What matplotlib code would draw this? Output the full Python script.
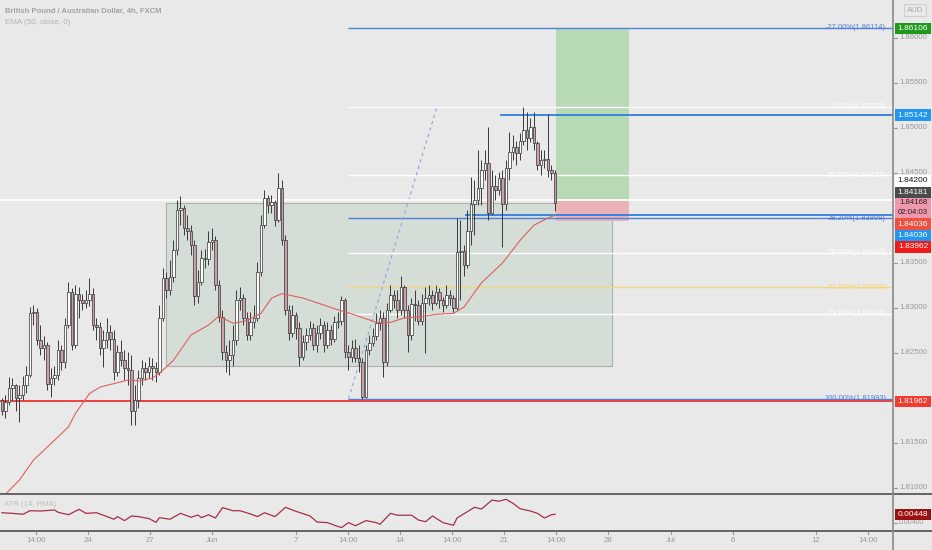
import matplotlib
matplotlib.use('Agg')
import matplotlib.pyplot as plt
from matplotlib.patches import Rectangle
from matplotlib.lines import Line2D
import numpy as np

plt.rcParams['font.family'] = ['Liberation Sans', 'DejaVu Sans']

# ---- data (GBPAUD 4h) ----
first_open = 1.8198
closes = [
    1.8186, 1.8195, 1.8211, 1.8214, 1.8200, 1.8203, 1.8214, 1.8225, 1.8294, 1.8295,
    1.8264, 1.8255, 1.8259, 1.8216, 1.8222, 1.8225, 1.8253, 1.8240, 1.8281, 1.8318,
    1.8259, 1.8316, 1.8309, 1.8305, 1.8309, 1.8316, 1.8281, 1.8279, 1.8255, 1.8264,
    1.8273, 1.8266, 1.8229, 1.8251, 1.8242, 1.8233, 1.8231, 1.8186, 1.8198, 1.8222,
    1.8233, 1.8229, 1.8236, 1.8233, 1.8229, 1.8289, 1.8333, 1.8320, 1.8334, 1.8364,
    1.8409, 1.8411, 1.8389, 1.8386, 1.8370, 1.8313, 1.8329, 1.8355, 1.8354, 1.8373,
    1.8375, 1.8325, 1.8290, 1.8251, 1.8242, 1.8248, 1.8264, 1.8309, 1.8311, 1.8289,
    1.8270, 1.8284, 1.8289, 1.8340, 1.8392, 1.8422, 1.8414, 1.8418, 1.8398, 1.8433,
    1.8375, 1.8298, 1.8272, 1.8292, 1.8278, 1.8245, 1.8262, 1.8270, 1.8278, 1.8259,
    1.8272, 1.8281, 1.8259, 1.8275, 1.8266, 1.8284, 1.8286, 1.8309, 1.8251, 1.8246,
    1.8255, 1.8244, 1.8240, 1.8201, 1.8253, 1.8261, 1.8269, 1.8283, 1.8289, 1.8240,
    1.8298, 1.8314, 1.8309, 1.8298, 1.8323, 1.8298, 1.8270, 1.8304, 1.8303, 1.8286,
    1.8306, 1.8311, 1.8314, 1.8306, 1.8318, 1.8309, 1.8303, 1.8314, 1.8311, 1.8300,
    1.8362, 1.8363, 1.8348, 1.8386, 1.8416, 1.8420, 1.8433, 1.8453, 1.8461, 1.8406,
    1.8436, 1.8431, 1.8444, 1.8416, 1.8456, 1.8473, 1.8479, 1.8472, 1.8486, 1.8498,
    1.8489, 1.8501, 1.8483, 1.8459, 1.8464, 1.8466, 1.8453, 1.8450, 1.84168,
]
highs = [
    1.8200, 1.8203, 1.8223, 1.8222, 1.8216, 1.8214, 1.8224, 1.8236, 1.8301, 1.8303,
    1.8300, 1.8281, 1.8269, 1.8262, 1.8233, 1.8236, 1.8264, 1.8259, 1.8289, 1.8329,
    1.8322, 1.8326, 1.8323, 1.8315, 1.8320, 1.8333, 1.8322, 1.8289, 1.8284, 1.8275,
    1.8289, 1.8281, 1.8275, 1.8259, 1.8264, 1.8253, 1.8251, 1.8248, 1.8214, 1.8231,
    1.8242, 1.8240, 1.8245, 1.8244, 1.8240, 1.8303, 1.8344, 1.8340, 1.8353, 1.8375,
    1.8420, 1.8424, 1.8414, 1.8403, 1.8392, 1.8375, 1.8342, 1.8364, 1.8366, 1.8386,
    1.8389, 1.8380, 1.8331, 1.8298, 1.8259, 1.8264, 1.8281, 1.8320, 1.8323, 1.8316,
    1.8295, 1.8295, 1.8303, 1.8351, 1.8403, 1.8431, 1.8425, 1.8426, 1.8420, 1.8450,
    1.8442, 1.8381, 1.8303, 1.8303, 1.8295, 1.8284, 1.8270, 1.8278, 1.8286, 1.8283,
    1.8281, 1.8289, 1.8286, 1.8284, 1.8281, 1.8291, 1.8295, 1.8313, 1.8311, 1.8259,
    1.8264, 1.8266, 1.8259, 1.8244, 1.8259, 1.8270, 1.8278, 1.8294, 1.8298, 1.8295,
    1.8306, 1.8325, 1.8320, 1.8320, 1.8336, 1.8325, 1.8303, 1.8311, 1.8320, 1.8309,
    1.8316, 1.8323, 1.8325, 1.8320, 1.8325, 1.8322, 1.8312, 1.8325, 1.8320, 1.8314,
    1.8400, 1.8398, 1.8370, 1.8409, 1.8445, 1.8442, 1.8475, 1.8464, 1.8475, 1.8501,
    1.8453, 1.8448, 1.8451, 1.8453, 1.8464, 1.8495, 1.8492, 1.8486, 1.8494, 1.85238,
    1.8518, 1.8511, 1.8518, 1.8486, 1.8475, 1.8475, 1.8516, 1.8459, 1.8453,
]
lows = [
    1.8181, 1.8178, 1.8192, 1.8198, 1.8186, 1.8173, 1.8198, 1.8206, 1.8223, 1.8281,
    1.8259, 1.8248, 1.8242, 1.8209, 1.8201, 1.8214, 1.8220, 1.8231, 1.8233, 1.8278,
    1.8253, 1.8255, 1.8289, 1.8298, 1.8300, 1.8302, 1.8275, 1.8264, 1.8248, 1.8234,
    1.8255, 1.8253, 1.8220, 1.8224, 1.8236, 1.8220, 1.8214, 1.8170, 1.8170, 1.8189,
    1.8214, 1.8220, 1.8222, 1.8220, 1.8218, 1.8225, 1.8286, 1.8311, 1.8314, 1.8329,
    1.8359, 1.8392, 1.8381, 1.8375, 1.8359, 1.8303, 1.8306, 1.8325, 1.8344, 1.8348,
    1.8364, 1.8320, 1.8284, 1.8242, 1.8229, 1.8225, 1.8236, 1.8259, 1.8298, 1.8281,
    1.8264, 1.8264, 1.8278, 1.8286, 1.8336, 1.8389, 1.8406, 1.8406, 1.8391, 1.8395,
    1.8370, 1.8292, 1.8264, 1.8268, 1.8266, 1.8235, 1.8242, 1.8253, 1.8264, 1.8253,
    1.8251, 1.8266, 1.8251, 1.8255, 1.8259, 1.8262, 1.8278, 1.8281, 1.8244, 1.8231,
    1.8240, 1.8240, 1.8229, 1.81993, 1.8200, 1.8248, 1.8258, 1.8264, 1.8275, 1.8223,
    1.8236, 1.8295, 1.8300, 1.8289, 1.8292, 1.8289, 1.8251, 1.8264, 1.8286, 1.8281,
    1.8281, 1.8250, 1.8303, 1.8298, 1.8303, 1.8300, 1.8295, 1.8300, 1.8303, 1.8295,
    1.8298, 1.8309, 1.8336, 1.8344, 1.8370, 1.8381, 1.8414, 1.8414, 1.8442, 1.8398,
    1.8403, 1.8420, 1.8425, 1.8368, 1.8409, 1.8442, 1.8464, 1.8459, 1.8464, 1.8481,
    1.8475, 1.8484, 1.8475, 1.8453, 1.8448, 1.8455, 1.8446, 1.8442, 1.8408,
]

ema_pos = [1, 5, 9, 15, 19, 21, 25, 28, 32, 36, 39, 43, 46, 49, 54, 59, 62, 66, 70,
           74, 77, 80, 86, 96, 101, 107, 111, 115, 119, 124, 129, 132, 137, 143,
           148, 152, 156, 158]
ema_val = [1.8093, 1.8109, 1.8131, 1.8153, 1.8168, 1.8183, 1.8205, 1.8212, 1.8216,
           1.8220, 1.8219, 1.8222, 1.8231, 1.8242, 1.8270, 1.8281, 1.8291, 1.8283,
           1.8286, 1.8294, 1.8311, 1.8316, 1.8311, 1.8298, 1.8292, 1.8284, 1.8284,
           1.8289, 1.8290, 1.8293, 1.8294, 1.8301, 1.8328, 1.8350, 1.8375, 1.8392,
           1.8400, 1.8403]

atr_pos = [0, 3, 6, 8, 11, 15, 16, 19, 22, 24, 27, 30, 32, 33, 35, 37, 39, 42, 44,
           45, 48, 51, 54, 56, 57, 59, 61, 63, 66, 68, 71, 73, 75, 78, 81, 84, 88,
           90, 93, 95, 97, 99, 101, 104, 107, 108, 111, 113, 117, 119, 121, 123,
           126, 129, 130, 135, 137, 140, 142, 144, 146, 148, 151, 153, 155, 157, 158]
atr_val = [0.00458, 0.00454, 0.00448, 0.00471, 0.00469, 0.00476, 0.00461, 0.00445,
           0.00480, 0.00454, 0.00458, 0.00433, 0.00416, 0.00433, 0.00407, 0.00437,
           0.00433, 0.00420, 0.00396, 0.00426, 0.00416, 0.00454, 0.00429, 0.00443,
           0.00426, 0.00445, 0.00424, 0.00491, 0.00471, 0.00471, 0.00450, 0.00433,
           0.00458, 0.00433, 0.00493, 0.00467, 0.00437, 0.00398, 0.00394, 0.00377,
           0.00362, 0.00394, 0.00374, 0.00407, 0.00394, 0.00383, 0.00454, 0.00442,
           0.00442, 0.00411, 0.00400, 0.00437, 0.00394, 0.00377, 0.00424, 0.00493,
           0.00482, 0.00540, 0.00532, 0.00545, 0.00519, 0.00484, 0.00469, 0.00454,
           0.00424, 0.00445, 0.00448]

fib_pct = [-27.0, 0.0, 23.6, 38.2, 50.0, 61.8, 71.0, 100.0]
fib_price = [1.86114, 1.85238, 1.84472, 1.83998, 1.83616, 1.83233, 1.82934, 1.81993]
fib_start, fib_end = 99, 124.3  # pivot low bar -> pivot high bar

# scale ticks (1.84000 and 1.82000 sit under price badges and are not shown)
price_ticks = [1.860, 1.855, 1.850, 1.845, 1.835, 1.830, 1.825, 1.815, 1.810]
time_labels = ['14:00', '24', '27', 'Jun', '7', '14:00', '14', '14:00', '21', '14:00',
               '28', 'Jul', '6', '12', '14:00']
time_pos = [9.7, 24.6, 42.3, 60.0, 84.0, 98.9, 113.7, 128.6, 143.4, 158.3, 173.1,
            191.1, 208.9, 232.6, 247.4]

box = dict(left=47, right=174.3, top=1.8417, bottom=1.8236)
entry, target, stop = 1.84200, 1.86106, 1.83962
pos_left, pos_right = 158.3, 179.1
level_red = 1.81962
level_blue_hi, level_blue_hi_from = 1.85142, 142.3
level_blue_lo, level_blue_lo_from = 1.84036, 132.3

# ---- figure ----
W, H = 932, 550
BG = '#e9e9e9'
BLUE = '#2f7fe0'
FIB_BLUE = '#4f7fd8'
fig = plt.figure(figsize=(W / 100, H / 100), dpi=100)
fig.patch.set_facecolor(BG)

ax = fig.add_axes([0, 56 / H, 893 / W, 494 / H])
ax2 = fig.add_axes([0, 19 / H, 893 / W, 37 / H])
for a in (ax, ax2):
    a.set_facecolor(BG)
    a.set_xticks([])
    a.set_yticks([])
    for s in a.spines.values():
        s.set_visible(False)
xlim = (-2 / 3.5, 891 / 3.5)
ax.set_xlim(*xlim)
ax2.set_xlim(*xlim)
ytop = 1.86422
ybot = ytop - 494 / 9000
ax.set_ylim(ybot, ytop)
ax2.set_ylim(0.00340, 0.00579)


def py(p):
    return (ytop - p) / (ytop - ybot) * 494


# range box and position tool
ax.add_patch(Rectangle((box['left'], box['bottom']), box['right'] - box['left'],
                       box['top'] - box['bottom'], facecolor='#d5ddd7',
                       edgecolor='#adb2ad', linewidth=0.8, zorder=1))
ax.add_patch(Rectangle((pos_left, entry), pos_right - pos_left, target - entry,
                       facecolor='#b7d9b5', edgecolor='none', zorder=1))
ax.add_patch(Rectangle((pos_left, stop), pos_right - pos_left, entry - stop,
                       facecolor='#e8b2b7', edgecolor='none', zorder=1))

# fib retracement
fib_cols = [FIB_BLUE, 'white', 'white', FIB_BLUE, 'white', '#f3d77e', 'white', FIB_BLUE]
for pct, p, c in zip(fib_pct, fib_price, fib_cols):
    ax.hlines(p, fib_start, xlim[1], color=c, linewidth=1.0, zorder=2)
    ax.text(886 / 893, p, f'{pct:.2f}%({p:.5f})', transform=ax.get_yaxis_transform(),
            ha='right', va='center', fontsize=5.4, color=c, zorder=6)
ax.plot([fib_start, fib_end], [fib_price[-1], fib_price[1]], color='#8ea6dd',
        linewidth=0.8, linestyle=(0, (3, 3)), zorder=2)

# horizontal levels
ax.axhline(entry, color='white', linewidth=1.3, zorder=2)
ax.axhline(level_red, color='#ee3333', linewidth=1.3, zorder=2)
ax.hlines(level_blue_hi, level_blue_hi_from, xlim[1], color=BLUE, linewidth=1.3, zorder=2)
ax.hlines(level_blue_lo, level_blue_lo_from, xlim[1], color=BLUE, linewidth=1.3, zorder=2)

# candles
n = len(closes)
x = np.arange(n)
o = np.array([first_open] + closes[:-1])
c = np.array(closes)
up = c >= o
ax.vlines(x, lows, highs, color='#3a3a3a', linewidth=0.7, zorder=3)
ax.bar(x, np.maximum(np.abs(c - o), 0.00004), bottom=np.minimum(o, c), width=0.62,
       color=np.where(up, '#ffffff', '#c9a0aa'), edgecolor='#333333', linewidth=0.5,
       zorder=4)

# EMA 50
ax.plot(ema_pos, ema_val, color='#e0605f', linewidth=0.8, zorder=5)

# ATR pane
ax2.plot(atr_pos, atr_val, color='#a63045', linewidth=0.9)

# separators
for yy in (494, 531):
    fig.add_artist(Line2D([0, 1], [1 - yy / H] * 2, color='#5a5a5a', linewidth=1.3))
fig.add_artist(Line2D([893 / W] * 2, [0, 1], color='#8a8a8a', linewidth=1.2))

GRAY = '#9a9a9a'
# price scale
for p in price_ticks:
    yy = 1 - py(p) / H
    fig.add_artist(Line2D([893 / W, 897 / W], [yy, yy], color=GRAY, linewidth=0.8))
    fig.text(899 / W, yy, f'{p:.5f}', color=GRAY, fontsize=5.6, va='center', ha='left')
yy = 1 - 523 / H
fig.add_artist(Line2D([893 / W, 897 / W], [yy, yy], color=GRAY, linewidth=0.8))
fig.text(899 / W, yy, '0.00400', color=GRAY, fontsize=5.0, va='center', ha='left')

# time scale
for t, lab in zip(time_pos, time_labels):
    ax2.plot([t, t], [0, -0.08], transform=ax2.get_xaxis_transform(), color=GRAY,
             linewidth=0.8, clip_on=False)
    ax2.text(t, -0.25, lab, transform=ax2.get_xaxis_transform(), color=GRAY,
             fontsize=5.6, ha='center', va='center')


def axis_label(y_px, text, face, tc, h=11.5, text2=None):
    fig.add_artist(Rectangle((895 / W, 1 - (y_px + h / 2) / H), 36 / W, h / H,
                             transform=fig.transFigure, facecolor=face,
                             edgecolor='none', zorder=10))
    if text2 is None:
        fig.text(913 / W, 1 - y_px / H, text, color=tc, ha='center', va='center',
                 fontsize=6.0, zorder=11)
    else:
        fig.text(913 / W, 1 - (y_px - 4.6) / H, text, color=tc, ha='center',
                 va='center', fontsize=5.6, zorder=11)
        fig.text(913 / W, 1 - (y_px + 4.6) / H, text2, color=tc, ha='center',
                 va='center', fontsize=5.6, zorder=11)


axis_label(py(target), f'{target:.5f}', '#1f9a1f', 'white')
axis_label(py(level_blue_hi), f'{level_blue_hi:.5f}', '#2196f3', 'white')
# stacked labels near the last price
axis_label(181, f'{entry:.5f}', '#ffffff', '#111111')
axis_label(193, '1.84181', '#4a4a4a', 'white')
axis_label(207.5, f'{closes[-1]:.5f}', '#f097ad', '#222222', h=20, text2='02:04:03')
axis_label(224, f'{level_blue_lo:.5f}', '#f0503f', 'white')
axis_label(235.5, f'{level_blue_lo:.5f}', '#2196f3', 'white')
axis_label(247, f'{stop:.5f}', '#f01c1c', 'white')
axis_label(py(level_red), f'{level_red:.5f}', '#f23a2e', 'white')
axis_label(514.3, f'{atr_val[-1]:.5f}', '#9b1111', 'white')

# currency badge
fig.add_artist(Rectangle((904 / W, 1 - 16 / H), 22 / W, 12 / H, transform=fig.transFigure,
                         facecolor='none', edgecolor='#cfcfcf', linewidth=0.8))
fig.text(915 / W, 1 - 10 / H, 'AUD', color='#a8a8a8', fontsize=5.6, ha='center', va='center')

# legends
fig.text(5 / W, 1 - 11 / H, 'British Pound / Australian Dollar, 4h, FXCM', color='#a3a3a3',
         fontsize=5.5, fontweight='bold', va='center')
fig.text(5 / W, 1 - 23 / H, 'EMA (50, close, 0)', color='#b3b3b3', fontsize=5.8, va='center')
fig.text(4 / W, 1 - 505 / H, 'ATR (14, RMA)', color='#c0c0c0', fontsize=5.6, va='center')

fig.savefig('out.png', dpi=100, facecolor=BG)
